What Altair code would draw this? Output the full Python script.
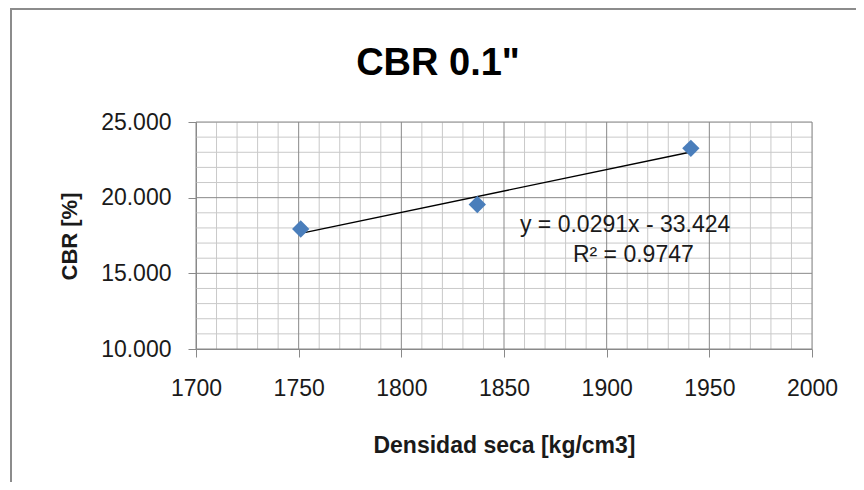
import altair as alt
import pandas as pd

# ---- data ----
densidad = [1751, 1837, 1941]
cbr = [17.93, 19.55, 23.26]

x_major = [1700, 1750, 1800, 1850, 1900, 1950, 2000]
y_major = [10, 15, 20, 25]
x_minor = [v for v in range(1700, 2001, 10) if v % 50 != 0]
y_minor = [v for v in range(10, 26) if v % 5 != 0]

eq_text = ["y = 0.0291x - 33.424", "R\u00b2 = 0.9747"]
eq_x = [1909, 1913]
eq_y = [18.19, 16.18]

title_text = ["CBR 0.1\""]

FONT = "Liberation Sans"
GRID_MAJOR = "#898989"
GRID_MINOR = "#c9c9c9"
BLUE = "#4a7ebb"

df = pd.DataFrame({"densidad": densidad, "cbr": cbr})
df_xmin = pd.DataFrame({"densidad": x_minor})
df_ymin = pd.DataFrame({"cbr": y_minor})
df_xmaj = pd.DataFrame({"densidad": x_major})
df_ymaj = pd.DataFrame({"cbr": y_major})
df_eq = pd.DataFrame({"t": eq_text, "densidad": eq_x, "cbr": eq_y})
df_title = pd.DataFrame({"t": title_text})

xs = alt.Scale(domain=[1700, 2000], nice=False, zero=False)
ys = alt.Scale(domain=[10, 25], nice=False, zero=False)

minor_x = alt.Chart(df_xmin).mark_rule(color=GRID_MINOR, strokeWidth=1).encode(
    x=alt.X("densidad:Q", scale=xs))
minor_y = alt.Chart(df_ymin).mark_rule(color=GRID_MINOR, strokeWidth=1).encode(
    y=alt.Y("cbr:Q", scale=ys))
major_x = alt.Chart(df_xmaj).mark_rule(color=GRID_MAJOR, strokeWidth=1).encode(
    x=alt.X("densidad:Q", scale=xs))
major_y = alt.Chart(df_ymaj).mark_rule(color=GRID_MAJOR, strokeWidth=1).encode(
    y=alt.Y("cbr:Q", scale=ys))

points = alt.Chart(df).mark_point(
    shape="diamond", filled=True, size=300, color=BLUE, opacity=1
).encode(
    x=alt.X("densidad:Q", scale=xs, axis=alt.Axis(
        values=x_major, format="d", grid=False,
        labelFont=FONT, labelFontSize=23, labelColor="#1a1a1a", labelPadding=20,
        labelFlush=False,
        tickSize=8, tickColor=GRID_MAJOR, domainColor=GRID_MAJOR,
        title="Densidad seca [kg/cm3]", titleFont=FONT, titleFontSize=23,
        titleFontWeight="bold", titleColor="#1a1a1a",
        titleBaseline="alphabetic", titleY=103)),
    y=alt.Y("cbr:Q", scale=ys, axis=alt.Axis(
        values=y_major, format=".3f", grid=False,
        labelFont=FONT, labelFontSize=23, labelColor="#1a1a1a", labelPadding=17,
        labelFlush=False,
        tickSize=8, tickColor=GRID_MAJOR, domainColor=GRID_MAJOR,
        title="CBR [%]", titleFont=FONT, titleFontSize=22,
        titleFontWeight="bold", titleColor="#1a1a1a",
        titleAngle=270, titleBaseline="alphabetic", titleX=-120, titleY=114)),
)

trend = alt.Chart(df).transform_regression("densidad", "cbr").mark_line(
    color="black", strokeWidth=1.4
).encode(
    x=alt.X("densidad:Q", scale=xs),
    y=alt.Y("cbr:Q", scale=ys),
)

eq = alt.Chart(df_eq).mark_text(
    font=FONT, fontSize=23, color="#1a1a1a", align="center", baseline="middle"
).encode(
    x=alt.X("densidad:Q", scale=xs),
    y=alt.Y("cbr:Q", scale=ys),
    text="t:N",
)

title = alt.Chart(df_title).mark_text(
    font=FONT, fontSize=38, fontWeight="bold", color="black",
    align="center", baseline="alphabetic"
).encode(x=alt.value(242), y=alt.value(-47), text="t:N")

frame_df = pd.DataFrame({"k": [0]})
frame_left = alt.Chart(frame_df).mark_rule(color="#8c8c8c", strokeWidth=2).encode(
    x=alt.value(-185), y=alt.value(-113), y2=alt.value(400))
frame_top = alt.Chart(frame_df).mark_rule(color="#8c8c8c", strokeWidth=2).encode(
    y=alt.value(-113), x=alt.value(-186), x2=alt.value(700))

chart = alt.layer(
    minor_x, minor_y, major_x, major_y, trend, points, eq, title,
    frame_left, frame_top
).properties(
    width=616, height=227,
    autosize=alt.AutoSizeParams(type="none"),
    padding={"left": 188, "top": 114, "right": 44, "bottom": 133},
).configure_view(stroke=None).configure(background="white")

chart.save("out.html", embed_options={"renderer": "svg", "actions": False})
